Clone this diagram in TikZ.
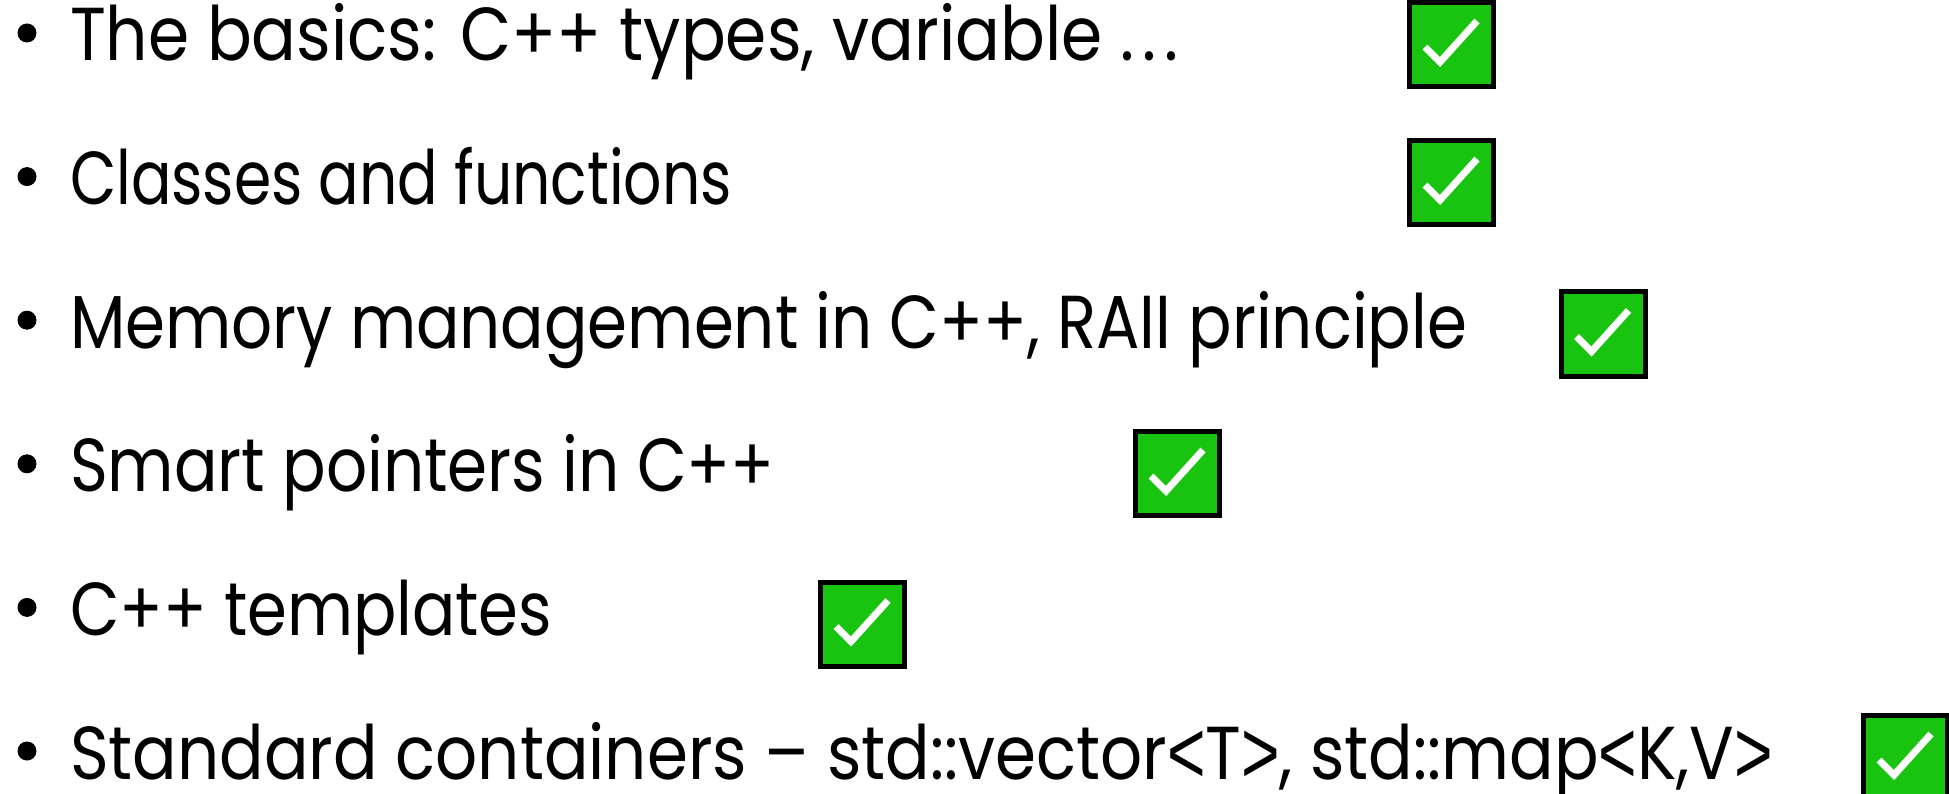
\documentclass[tikz,border=0pt]{standalone}
\usepackage{fontspec}
\setmainfont{Poppins}
\newfontfamily\libsans{Liberation Sans}
\usepackage{graphicx}
\definecolor{chkgreen}{RGB}{24,196,16}
\tikzset{
  item/.style={anchor=base west, inner sep=0pt, outer sep=0pt, font=\fontsize{75}{84}\selectfont},
  bul/.style={circle, fill=black, inner sep=0pt, minimum size=19pt},
  chkbox/.style={draw=black, line width=5pt, fill=chkgreen, minimum size=84pt, inner sep=0pt},
  tick/.style={draw=white, line width=7pt, line join=miter}
}
\newcommand{\itm}[2]{\resizebox{#1pt}{\height}{#2}}
\newcommand{\lt}{\raisebox{-0.06em}{\scalebox{1}[1.2]{\libsans <}}}
\newcommand{\gt}{\raisebox{-0.06em}{\scalebox{1}[1.2]{\libsans >}}}
\begin{document}
\begin{tikzpicture}[x=1pt,y=-1pt]
\useasboundingbox (0,0) rectangle (1949,794);
\fill[white] (0,0) rectangle (1949,794);
% bullets
\foreach \i/\yy in {1/61,2/204.6,3/348.2,4/491.8,5/635.4,6/779}{
  \node[bul] (b\i) at (27,\yy-28) {};
}
\node[item] (t1) at (70,61) {\itm{1108}{The basics: C++ types, variable .\hspace{0.12em}.\hspace{0.12em}.}};
\node[item] (t2) at (70,204.6) {\itm{662}{Classes and functions}};
\node[item] (t3) at (70,348.2) {\itm{1397}{Memory management in C++, RAII principle}};
\node[item] (t4) at (70,491.8) {\itm{705}{Smart pointers in C++}};
\node[item] (t5) at (70,635.4) {\itm{482}{C++ templates}};
\node[item] (t6) at (70,779) {\itm{1703}{Standard containers – std::vector\lt T\gt, std::map\lt K,V\gt}};
% check boxes
\foreach \i/\cx/\cy in {1/1451.5/44.5, 2/1451.5/182.5, 3/1603/334, 4/1177.5/473.5, 5/862.5/624, 6/1905.5/757.5}{
  \node[chkbox] (c\i) at (\cx,\cy) {};
  \draw[tick] ([shift={(-26.5,2.5)}]c\i.center) -- ([shift={(-11.5,17.5)}]c\i.center) -- ([shift={(25.5,-23.5)}]c\i.center);
}
\end{tikzpicture}
\end{document}
